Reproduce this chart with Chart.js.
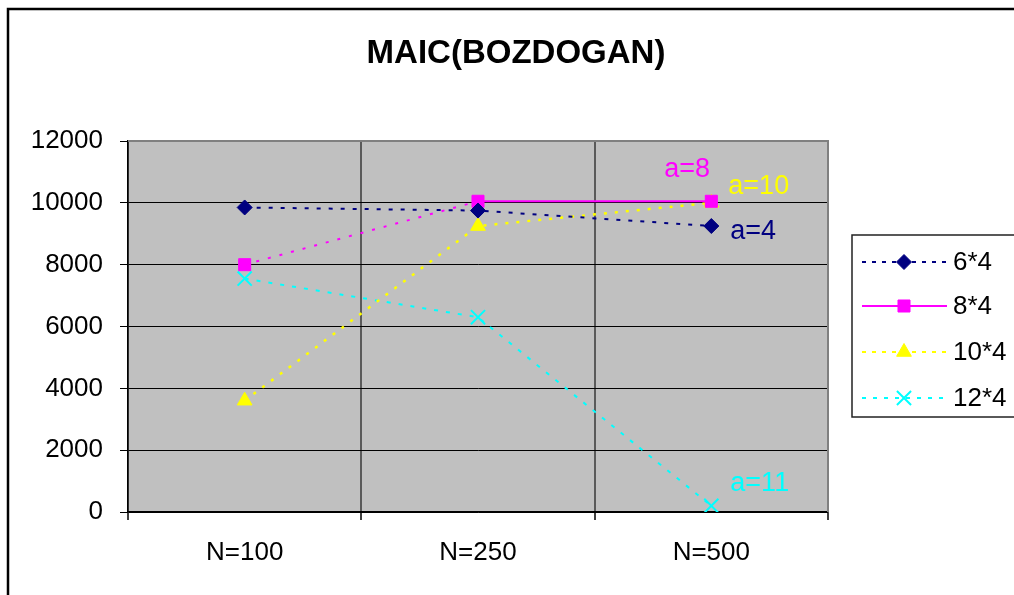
<!DOCTYPE html>
<html>
<head>
<meta charset="utf-8">
<script src="https://cdn.jsdelivr.net/npm/chart.js@4/dist/chart.umd.min.js"></script>
<style>
  body { margin: 0; background: #fff; }
  canvas { display: block; }
</style>
</head>
<body>
<canvas id="maicChart" width="1014" height="595"></canvas>
<script>
const categories = ["N=100", "N=250", "N=500"];
const seriesNames = ["6*4", "8*4", "10*4", "12*4"];
const s6x4 = [9850, 9750, 9250];
const s8x4 = [8000, 10050, 10050];
const s10x4 = [3600, 9250, 10000];
const s12x4 = [7550, 6300, 200];
const yTicks = [0, 2000, 4000, 6000, 8000, 10000, 12000];
const endLabels = ["a=4", "a=8", "a=10", "a=11"];

const FONT = "'Liberation Sans', Arial, sans-serif";

// label offsets from each series' last point
const labelOffsets = [[19, 6], [-47, -32], [17, -16], [19, -22]];

const legendLines = [[4, 6], [], [4, 6], [4, 7]];

const plotBackground = {
  id: 'plotBackground',
  beforeDraw(chart) {
    const { ctx, chartArea: a } = chart;
    ctx.save();
    // outer frame
    ctx.strokeStyle = '#000';
    ctx.lineWidth = 2.5;
    ctx.strokeRect(8, 9, 1030, 620);
    ctx.fillStyle = '#c0c0c0';
    ctx.fillRect(a.left, a.top, a.right - a.left, a.bottom - a.top);
    // title
    ctx.fillStyle = '#000';
    ctx.font = 'bold 33px ' + FONT;
    ctx.textAlign = 'center';
    ctx.textBaseline = 'middle';
    ctx.fillText('MAIC(BOZDOGAN)', 516, 54);
    ctx.restore();
  },
  beforeDatasetsDraw(chart) {
    const { ctx, chartArea: a } = chart;
    ctx.save();
    ctx.strokeStyle = '#808080';
    ctx.lineWidth = 2;
    ctx.beginPath();
    ctx.moveTo(a.left, a.top);
    ctx.lineTo(a.right, a.top);
    ctx.lineTo(a.right, a.bottom);
    ctx.stroke();
    ctx.restore();
  },
  afterDatasetsDraw(chart) {
    const { ctx } = chart;
    ctx.save();
    ctx.font = '27px ' + FONT;
    ctx.textAlign = 'left';
    ctx.textBaseline = 'middle';
    chart.data.datasets.forEach((ds, i) => {
      const pts = chart.getDatasetMeta(i).data;
      const p = pts[pts.length - 1];
      ctx.fillStyle = ds.borderColor;
      ctx.fillText(endLabels[i], p.x + labelOffsets[i][0], p.y + labelOffsets[i][1]);
    });

    // legend box
    ctx.strokeStyle = '#222';
    ctx.lineWidth = 1.5;
    ctx.strokeRect(852, 235, 180, 182);
    const rows = [262, 306, 352, 398];
    ctx.font = '26px ' + FONT;
    chart.data.datasets.forEach((ds, i) => {
      const y = rows[i];
      ctx.strokeStyle = ds.borderColor;
      ctx.lineWidth = 2;
      ctx.setLineDash(legendLines[i]);
      ctx.beginPath();
      ctx.moveTo(862, y);
      ctx.lineTo(947, y);
      ctx.stroke();
      ctx.setLineDash([]);
      // drawPoint uses the current fill/stroke
      ctx.fillStyle = ds.pointBackgroundColor;
      ctx.strokeStyle = ds.pointBorderColor;
      ctx.lineWidth = ds.pointBorderWidth;
      Chart.helpers.drawPoint(ctx, {
        pointStyle: ds.pointStyle,
        radius: ds.pointRadius,
        borderWidth: ds.pointBorderWidth,
        rotation: 0
      }, 904, y);
      ctx.fillStyle = '#000';
      ctx.fillText(seriesNames[i], 953, y + 1);
    });
    ctx.restore();
  }
};

new Chart(document.getElementById('maicChart'), {
  type: 'line',
  data: {
    labels: categories,
    datasets: [
      {
        label: seriesNames[0],
        data: s6x4,
        borderColor: '#000080',
        borderWidth: 2,
        borderDash: [4, 8],
        pointStyle: 'rectRot',
        pointRadius: 7.5,
        pointBackgroundColor: '#000080',
        pointBorderColor: '#000080',
        pointBorderWidth: 1
      },
      {
        label: seriesNames[1],
        data: s8x4,
        borderColor: '#ff00ff',
        borderWidth: 2,
        segment: {
          borderDash: c => c.p0DataIndex === 0 ? [3, 9] : []
        },
        pointStyle: 'rect',
        pointRadius: 8.5,
        pointBackgroundColor: '#ff00ff',
        pointBorderColor: '#ff00ff',
        pointBorderWidth: 1
      },
      {
        label: seriesNames[2],
        data: s10x4,
        borderColor: '#ffff00',
        borderWidth: 2.5,
        borderDash: [3, 8],
        pointStyle: 'triangle',
        pointRadius: 8.5,
        pointBackgroundColor: '#ffff00',
        pointBorderColor: '#ffff00',
        pointBorderWidth: 1
      },
      {
        label: seriesNames[3],
        data: s12x4,
        borderColor: '#00ffff',
        borderWidth: 2,
        borderDash: [4, 8],
        pointStyle: 'crossRot',
        pointRadius: 10,
        pointBackgroundColor: '#00ffff',
        pointBorderColor: '#00ffff',
        pointBorderWidth: 2
      }
    ]
  },
  options: {
    responsive: false,
    devicePixelRatio: 1,
    animation: false,
    layout: { padding: { top: 141, right: 186, left: 0, bottom: 0 } },
    elements: { line: { tension: 0, borderCapStyle: 'butt' } },
    plugins: {
      legend: { display: false },
      title: { display: false },
      tooltip: { enabled: false }
    },
    scales: {
      x: {
        offset: true,
        afterFit: s => { s.height = 83; },
        grid: {
          offset: true,
          color: '#5a5a5a',
          lineWidth: 2,
          tickLength: 8,
          tickColor: '#000',
          tickWidth: 1.5
        },
        border: { color: '#000', width: 1.5 },
        ticks: {
          color: '#000',
          padding: 17,
          font: { family: FONT, size: 26 }
        }
      },
      y: {
        min: 0,
        max: 12000,
        afterFit: s => { s.width = 128; },
        afterBuildTicks: s => { s.ticks = yTicks.map(v => ({ value: v })); },
        grid: {
          color: '#000',
          lineWidth: 1,
          tickLength: 8,
          tickColor: '#000'
        },
        border: { color: '#000', width: 1.5 },
        ticks: {
          color: '#000',
          padding: 17,
          font: { family: FONT, size: 26 },
          callback: v => String(v)
        }
      }
    }
  },
  plugins: [plotBackground]
});
</script>
</body>
</html>
